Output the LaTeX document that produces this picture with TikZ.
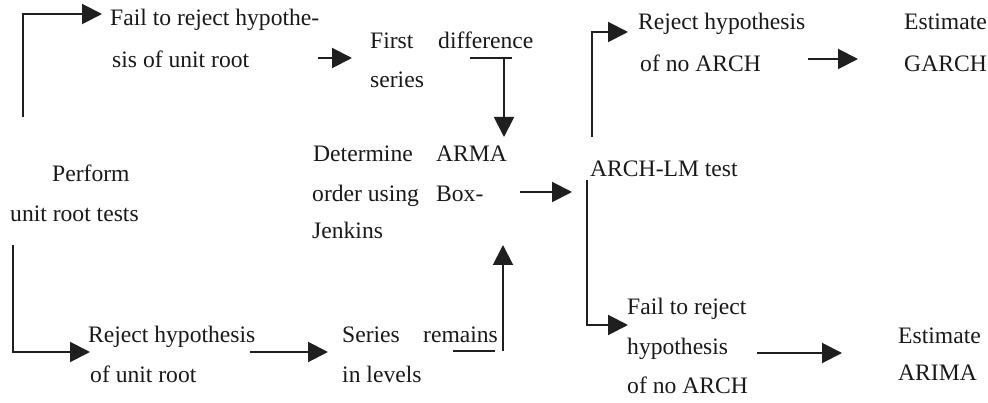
\documentclass[tikz,border=0pt]{standalone}
\usepackage{fontspec}
\setmainfont{Liberation Serif}
\usetikzlibrary{arrows.meta}
\begin{document}
\begin{tikzpicture}[x=1pt,y=-1pt,
  txt/.style={anchor=base west,inner sep=0pt,font=\fontsize{23.6}{23.6}\selectfont,text=black!90},
  conn/.style={line width=2pt,draw=black!88},
  arr/.style={conn,-{Triangle[length=20pt,width=20pt]}}]
\useasboundingbox (0,0) rectangle (988,403);
% texts
\node[txt] (f1) at (110,26) {Fail to reject hypothe-};
\node[txt] (f2) at (112,68) {sis of unit root};
\node[txt] (fd1) at (370,49) {First};
\node[txt] (fd2) at (438,49) {difference};
\node[txt] (fd3) at (370,88) {series};
\node[txt] (d1) at (313,162) {Determine};
\node[txt] (d2) at (436,162) {ARMA};
\node[txt] (d3) at (312,202) {order using};
\node[txt] (d4) at (436,202) {Box-};
\node[txt] (d5) at (312,239) {Jenkins};
\node[txt] (p1) at (52,182) {Perform};
\node[txt] (p2) at (10,222) {unit root tests};
\node[txt] (r1) at (88,342) {Reject hypothesis};
\node[txt] (r2) at (90,382) {of unit root};
\node[txt] (s1) at (342,342) {Series};
\node[txt] (s2) at (423,342) {remains};
\node[txt] (s3) at (342,382) {in levels};
\node[txt] (lm) at (590,177) {ARCH-LM test};
\node[txt] (ra1) at (638,30) {Reject hypothesis};
\node[txt] (ra2) at (640,72) {of no ARCH};
\node[txt] (g1) at (904,30) {Estimate};
\node[txt] (g2) at (904,72) {GARCH};
\node[txt] (fa1) at (627,315) {Fail to reject};
\node[txt] (fa2) at (627,354) {hypothesis};
\node[txt] (fa3) at (627,393) {of no ARCH};
\node[txt] (e1) at (898,343) {Estimate};
\node[txt] (e2) at (898,380) {ARIMA};
% connector points
\coordinate (a1s) at (23,117);
\coordinate (a1b) at (23,14);
\coordinate (a1e) at (102,14);
\coordinate (a2s) at (318,58);
\coordinate (a2e) at (352,58);
\coordinate (a3s) at (470,58);
\coordinate (a3m) at (512,58);
\coordinate (a3b) at (504,58);
\coordinate (a3e) at (504,137);
\coordinate (a4s) at (520,192);
\coordinate (a4e) at (572,192);
\coordinate (a5s) at (453,351);
\coordinate (a5m) at (495,351);
\coordinate (a5b) at (503,351);
\coordinate (a5e) at (503,245);
\coordinate (a6s) at (13,245);
\coordinate (a6b) at (13,352);
\coordinate (a6e) at (90,352);
\coordinate (a7s) at (250,352);
\coordinate (a7e) at (328,352);
\coordinate (a8s) at (592,137);
\coordinate (a8b) at (592,32);
\coordinate (a8e) at (628,32);
\coordinate (a9s) at (587,180);
\coordinate (a9b) at (587,325);
\coordinate (a9e) at (628,325);
\coordinate (a10s) at (808,59);
\coordinate (a10e) at (858,59);
\coordinate (a11s) at (757,353);
\coordinate (a11e) at (842,353);
% connectors
\draw[arr] (a1s) -- (a1b) -- (a1e);
\draw[arr] (a2s) -- (a2e);
\draw[conn] (a3s) -- (a3m);
\draw[arr] (a3b) -- (a3e);
\draw[arr] (a4s) -- (a4e);
\draw[conn] (a5s) -- (a5m);
\draw[arr] (a5b) -- (a5e);
\draw[arr] (a6s) -- (a6b) -- (a6e);
\draw[arr] (a7s) -- (a7e);
\draw[arr] (a8s) -- (a8b) -- (a8e);
\draw[arr] (a9s) -- (a9b) -- (a9e);
\draw[arr] (a10s) -- (a10e);
\draw[arr] (a11s) -- (a11e);
\end{tikzpicture}
\end{document}
